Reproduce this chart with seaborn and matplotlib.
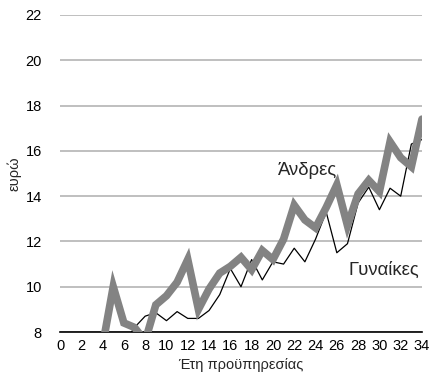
import matplotlib
matplotlib.use("Agg")
import matplotlib.pyplot as plt
import seaborn as sns
import pandas as pd

men_years = list(range(4, 35))
men_values = [7.4, 10.0, 8.4, 8.2, 7.6, 9.2, 9.6, 10.2, 11.2, 9.0, 9.9, 10.6, 10.9, 11.3,
              10.75, 11.6, 11.2, 12.1, 13.6, 12.95, 12.6, 13.5, 14.5, 12.7, 14.1, 14.7,
              14.2, 16.4, 15.7, 15.3, 17.4]
women_years = list(range(6, 35))
women_values = [7.5, 8.2, 8.7, 8.85, 8.5, 8.9, 8.6, 8.6, 8.95, 9.65, 10.8, 10.0, 11.2,
                10.3, 11.1, 11.0, 11.7, 11.1, 12.1, 13.3, 11.5, 11.9, 13.7, 14.4, 13.4,
                14.35, 14.0, 16.3, 16.5]
x_ticks = list(range(0, 35, 2))
y_ticks = list(range(8, 23, 2))
men_label = "Άνδρες"
women_label = "Γυναίκες"
x_title = "Έτη προϋπηρεσίας"
y_title = "ευρώ"

sns.set_style("white")
plt.rcParams["font.family"] = ["Liberation Sans", "DejaVu Sans"]

df_m = pd.DataFrame({"x": men_years, "y": men_values})
df_w = pd.DataFrame({"x": women_years, "y": women_values})

fig = plt.figure(figsize=(4.44, 3.85), dpi=100)
ax = fig.add_axes([60/444, 1-332/385, (422-60)/444, (332-15)/385])

sns.lineplot(data=df_w, x="x", y="y", ax=ax, color="black", linewidth=0.9, zorder=3)
sns.lineplot(data=df_m, x="x", y="y", ax=ax, color="#838383", linewidth=5.5, zorder=4,
             solid_joinstyle="miter")

ax.set_xlim(0, 34)
ax.set_ylim(8, 22)
ax.set_xticks(x_ticks)
ax.set_yticks(y_ticks)
ax.grid(axis="y", color="#b4b4b4", linewidth=1.2)
ax.grid(axis="x", visible=False)
for s in ["top", "right", "left"]:
    ax.spines[s].set_visible(False)
ax.spines["bottom"].set_color("black")
ax.spines["bottom"].set_linewidth(1.2)
ax.spines["bottom"].set_zorder(2)
ax.tick_params(axis="both", length=0, labelsize=10.5, colors="black")
ax.tick_params(axis="x", pad=5)
ax.tick_params(axis="y", pad=13)
ax.set_xlabel(x_title, fontsize=10.5, labelpad=4)
ax.set_ylabel(y_title, fontsize=10.5, labelpad=3)

ax.text(23.3, 15.15, men_label, fontsize=13.3, ha="center", va="center", zorder=5)
ax.text(30.4, 10.74, women_label, fontsize=13.3, ha="center", va="center", zorder=5)

fig.savefig("out.png", dpi=100)
